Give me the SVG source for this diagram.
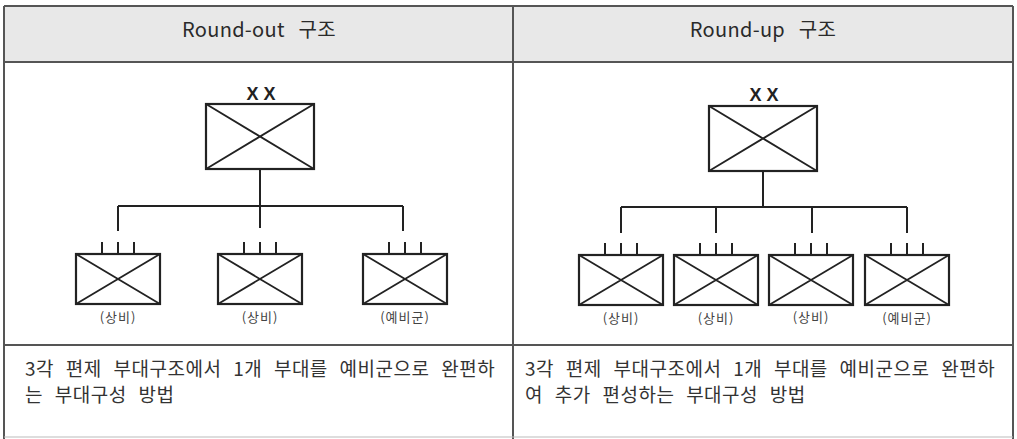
<svg xmlns="http://www.w3.org/2000/svg" width="1017" height="439" viewBox="0 0 1017 439">
<style>
.hdr{font-family:"Noto Sans CJK KR","Noto Sans",sans-serif;font-size:20px;fill:#2a2a2a;text-anchor:middle;letter-spacing:0.3px;word-spacing:9px}
.desc{font-family:"Noto Sans CJK KR","Noto Sans",sans-serif;font-size:19px;fill:#333;letter-spacing:0.5px;word-spacing:7px}
.lbl{font-family:"Noto Sans CJK KR","Noto Sans",sans-serif;font-size:13px;fill:#444;text-anchor:middle;letter-spacing:1px}
.xx{font-family:"Liberation Sans",sans-serif;font-size:18px;font-weight:bold;fill:#222;text-anchor:middle}
.unit{fill:#fff;stroke:#222;stroke-width:2.2}
.ln{stroke:#222;stroke-width:2;fill:none}
.cx{stroke:#222;stroke-width:1.8;fill:none}
.grid{stroke:#555;stroke-width:2;fill:none}
</style>
<defs>
<g id="bigunit">
<rect class="unit" x="-54" y="0" width="108" height="65"/>
<path class="cx" d="M-54 0L54 65M54 0L-54 65"/>
</g>
<g id="smallunit">
<path class="ln" d="M-16 -12V0M0 -12V0M16 -12V0"/>
<rect class="unit" x="-42" y="0" width="84" height="50"/>
<path class="cx" d="M-42 0L42 50M42 0L-42 50"/>
</g>
</defs>
<rect x="0" y="0" width="1017" height="439" fill="#fff"/>
<g id="table">
<rect x="4" y="6" width="1009" height="56" fill="#e8e8e8"/>
<path class="grid" d="M4 6H1013M4 62H1013M4 345H1013M513 6V439M4 6V439M1013 6V439"/>
<path d="M4 437H1013" stroke="#bbb" stroke-width="1"/>
<text class="hdr" x="259" y="37">Round-out 구조</text>
<text class="hdr" x="763" y="37">Round-up 구조</text>
</g>
<g id="connectors">
<path class="ln" d="M260 169V206M118 206H403M118 206V231M260 206V228M403 206V231"/>
<path class="ln" d="M763 170V207M621 207H907M621 207V233M716 207V233M812 207V233M907 207V233"/>
</g>
<g id="left-div">
<text class="xx" x="261" y="100">X X</text>
<use href="#bigunit" x="260" y="104"/>
</g>
<g id="left-u1"><use href="#smallunit" x="118" y="254"/><text class="lbl" x="118" y="322">(상비)</text></g>
<g id="left-u2"><use href="#smallunit" x="260" y="254"/><text class="lbl" x="260" y="322">(상비)</text></g>
<g id="left-u3"><use href="#smallunit" x="405" y="254"/><text class="lbl" x="405" y="322">(예비군)</text></g>
<g id="right-div">
<text class="xx" x="764" y="101">X X</text>
<use href="#bigunit" x="763" y="106"/>
</g>
<g id="right-u1"><use href="#smallunit" x="621" y="255"/><text class="lbl" x="621" y="323">(상비)</text></g>
<g id="right-u2"><use href="#smallunit" x="716" y="255"/><text class="lbl" x="716" y="323">(상비)</text></g>
<g id="right-u3"><use href="#smallunit" x="811" y="255"/><text class="lbl" x="811" y="322">(상비)</text></g>
<g id="right-u4"><use href="#smallunit" x="907" y="255"/><text class="lbl" x="907" y="323">(예비군)</text></g>
<g id="desc-left">
<text class="desc" x="25" y="376">3각 편제 부대구조에서 1개 부대를 예비군으로 완편하</text>
<text class="desc" x="25" y="402">는 부대구성 방법</text>
</g>
<g id="desc-right">
<text class="desc" x="525" y="376">3각 편제 부대구조에서 1개 부대를 예비군으로 완편하</text>
<text class="desc" x="525" y="402">여 추가 편성하는 부대구성 방법</text>
</g>
</svg>
